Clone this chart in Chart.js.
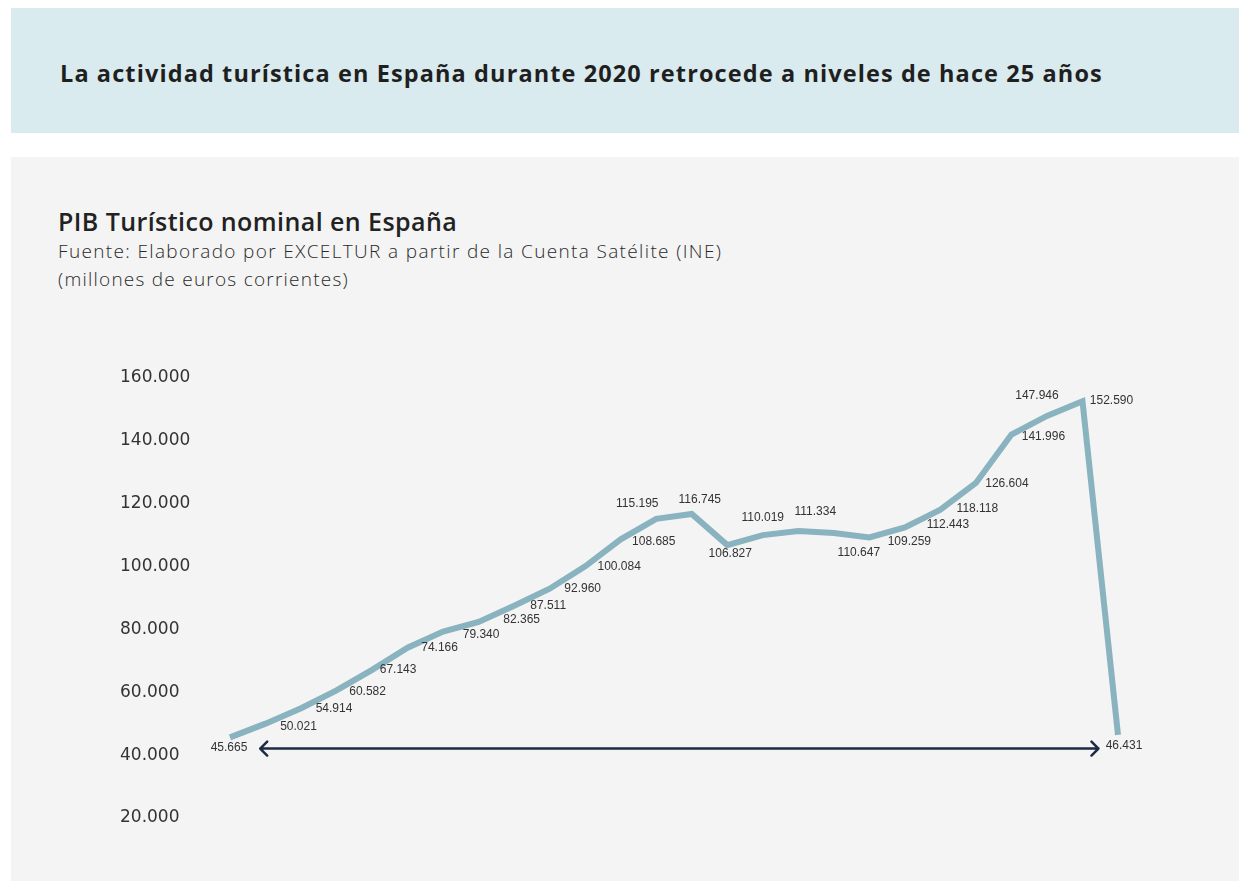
<!DOCTYPE html>
<html lang="es">
<head>
<meta charset="utf-8">
<script src="https://cdn.jsdelivr.net/npm/chart.js@4/dist/chart.umd.min.js"></script>
<style>
  html, body { margin: 0; padding: 0; background: #fff; }
  body { width: 1239px; height: 881px; position: relative; overflow: hidden; font-family: "Open Sans", "Noto Sans", sans-serif; color: #222; }
  .banner { position: absolute; left: 11px; top: 8px; width: 1228px; height: 125px; background: #d9ebee; }
  .banner h1 { position: absolute; left: 49px; top: 50px; margin: 0; font-size: 23.5px; line-height: 30px; font-weight: 700; color: #1f1f1f; white-space: nowrap; }
  .panel { position: absolute; left: 11px; top: 157px; width: 1228px; height: 724px; background: #f4f4f4; }
  .head { position: absolute; left: 58px; top: 205px; }
  .head h2 { margin: 0; font-size: 25px; font-weight: 600; color: #222; line-height: 32px; white-space: nowrap; display: inline-block; }
  .head p { margin: 0; font-size: 19px; font-weight: 300; color: #2a2a2a; line-height: 28px; white-space: nowrap; }
  .head p span { display: inline-block; }
  #wrap { position: absolute; left: 0; top: 0; width: 1239px; height: 881px; }
</style>
</head>
<body>
<div class="banner"><h1 class="fit" data-w="1043">La actividad turística en España durante 2020 retrocede a niveles de hace 25 años</h1></div>
<div class="panel"></div>
<div class="head">
  <h2 class="fit" data-w="399">PIB Turístico nominal en España</h2>
  <p><span class="fit" data-w="664">Fuente: Elaborado por EXCELTUR a partir de la Cuenta Satélite (INE)</span></p>
  <p><span class="fit" data-w="291">(millones de euros corrientes)</span></p>
</div>
<div id="wrap"><canvas id="chart" width="1239" height="881"></canvas></div>

<script>
// Data
const years = ["1995","1996","1997","1998","1999","2000","2001","2002","2003","2004","2005","2006","2007",
  "2008","2009","2010","2011","2012","2013","2014","2015","2016","2017","2018","2019","2020"]
const pibTuristico = [45665, 50021, 54914, 60582, 67143, 74166, 79340, 82365, 87511, 92960, 100084, 108685, 115195,
  116745, 106827, 110019, 111334, 110647, 109259, 112443, 118118, 126604, 141996, 147946, 152590, 46431]
const yTicks = [20000, 40000, 60000, 80000, 100000, 120000, 140000, 160000]

// Arrow from 1995 to 2020 (index positions along the x scale, value on the y scale)
const arrowFrom = 0.85
const arrowTo = 24.45
const arrowLevel = 42100

// label offsets (px) relative to each point
const labelOffsets = [
  [-1, 10], [33, 3], [33, 0], [31, 1], [26, 0], [32, 0], [38, 3], [43, -2], [34, 0], [33, 0], [34, 0], [33, 2], [-19, -15],
  [8, -14], [3, 9], [0, -17], [17, -19], [25, 20], [40, 4], [43, -3], [37, -1], [31, 1], [32, 2], [-10, -20], [29, -1], [6, 11]
]

const fmt = (v) => v.toLocaleString("de-DE")

// Draws the value labels next to each point
const pointLabels = {
  id: "pointLabels",
  afterDatasetsDraw(chart) {
    const ctx = chart.ctx
    const meta = chart.getDatasetMeta(0)
    ctx.save()
    ctx.font = "12px 'Liberation Sans', Arial, sans-serif"
    ctx.fillStyle = "#333"
    ctx.textAlign = "center"
    ctx.textBaseline = "middle"
    meta.data.forEach((pt, i) => {
      const [dx, dy] = labelOffsets[i]
      ctx.fillText(fmt(pibTuristico[i]), pt.x + dx, pt.y + dy)
    })
    ctx.restore()
  }
}

// Double headed arrow under the line
const spanArrow = {
  id: "spanArrow",
  afterDatasetsDraw(chart) {
    const ctx = chart.ctx
    const x = chart.scales.x, y = chart.scales.y
    const x1 = x.getPixelForValue(arrowFrom)
    const x2 = x.getPixelForValue(arrowTo)
    const yy = y.getPixelForValue(arrowLevel)
    ctx.save()
    ctx.strokeStyle = "#1e2b45"
    ctx.lineWidth = 2.5
    ctx.lineCap = "round"
    ctx.lineJoin = "round"
    ctx.beginPath()
    ctx.moveTo(x1, yy); ctx.lineTo(x2, yy)
    ctx.moveTo(x1 + 7, yy - 7); ctx.lineTo(x1, yy); ctx.lineTo(x1 + 7, yy + 7)
    ctx.moveTo(x2 - 7, yy - 7); ctx.lineTo(x2, yy); ctx.lineTo(x2 - 7, yy + 7)
    ctx.stroke()
    ctx.restore()
  }
}

// stretch headings to the reference widths (Raleway is not installed)
document.querySelectorAll(".fit").forEach((el) => {
  const extra = Number(el.dataset.w) - el.getBoundingClientRect().width
  el.style.letterSpacing = (extra / el.textContent.length).toFixed(2) + "px"
})

new Chart(document.getElementById("chart"), {
  type: "line",
  data: {
    labels: years,
    datasets: [{
      data: pibTuristico,
      borderColor: "#88b3bf",
      borderWidth: 6,
      borderJoinStyle: "miter",
      pointRadius: 0,
      tension: 0,
      fill: false
    }]
  },
  options: {
    responsive: false,
    animation: false,
    events: [],
    layout: { padding: { left: 120, right: 121, top: 378, bottom: 63 } },
    plugins: { legend: { display: false }, tooltip: { enabled: false } },
    scales: {
      x: { display: false },
      y: {
        min: 20000,
        max: 160000,
        afterBuildTicks: (scale) => { scale.ticks = yTicks.map(v => ({ value: v })) },
        afterFit: (scale) => { scale.width = 110 },
        grid: { display: false, drawTicks: false },
        border: { display: false },
        ticks: {
          crossAlign: "far",
          color: "#333",
          font: { family: "'DejaVu Sans', sans-serif", size: 17 },
          callback: (v) => fmt(v)
        }
      }
    }
  },
  plugins: [spanArrow, pointLabels]
})
</script>
</body>
</html>
